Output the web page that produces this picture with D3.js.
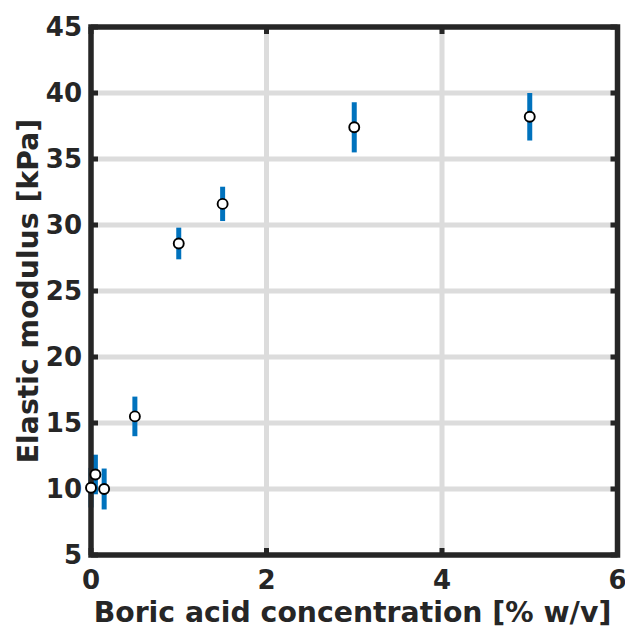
<!DOCTYPE html>
<html>
<head>
<meta charset="utf-8">
<script src="https://cdn.jsdelivr.net/npm/d3@7"></script>
<style>
  html, body { margin: 0; padding: 0; background: #fff; }
  svg { display: block; font-family: "DejaVu Sans", sans-serif; font-weight: bold; }
</style>
</head>
<body>
<svg id="chart" width="625" height="627"></svg>
<script>
// Boric acid concentration (% w/v) vs. elastic modulus (kPa), mean ± error
const concentration = [0, 0.05, 0.15, 0.5, 1, 1.5, 3, 5];
const modulus       = [10.1, 11.1, 10.0, 15.5, 28.6, 31.6, 37.4, 38.2];
const modulusError  = [1.5, 1.5, 1.55, 1.5, 1.2, 1.3, 1.9, 1.8];
const xTicks = [0, 2, 4, 6];
const yTicks = [5, 10, 15, 20, 25, 30, 35, 40, 45];

const svg = d3.select("#chart");
const margin = { left: 91, right: 617.5, top: 27, bottom: 555 };
const ink = "#262626";

const x = d3.scaleLinear().domain([0, 6]).range([margin.left, margin.right]);
const y = d3.scaleLinear().domain([5, 45]).range([margin.bottom, margin.top]);

// grid
const grid = svg.append("g").attr("stroke", "#dcdcdc").attr("stroke-width", 5);
grid.selectAll("line.gy").data(yTicks.slice(1, -1)).join("line")
  .attr("x1", margin.left).attr("x2", margin.right)
  .attr("y1", d => y(d)).attr("y2", d => y(d));
grid.selectAll("line.gx").data(xTicks.slice(1, -1)).join("line")
  .attr("y1", margin.top).attr("y2", margin.bottom)
  .attr("x1", d => x(d)).attr("x2", d => x(d));

// inward ticks on all four sides
const tickLen = 7;
const ticks = svg.append("g").attr("stroke", ink).attr("stroke-width", 5);
yTicks.forEach(t => {
  ticks.append("line").attr("x1", margin.left).attr("x2", margin.left + tickLen).attr("y1", y(t)).attr("y2", y(t));
  ticks.append("line").attr("x1", margin.right).attr("x2", margin.right - tickLen).attr("y1", y(t)).attr("y2", y(t));
});
xTicks.forEach(t => {
  ticks.append("line").attr("y1", margin.bottom).attr("y2", margin.bottom - tickLen).attr("x1", x(t)).attr("x2", x(t));
  ticks.append("line").attr("y1", margin.top).attr("y2", margin.top + tickLen).attr("x1", x(t)).attr("x2", x(t));
});

// data: error bars then markers
const data = concentration.map((c, i) => ({ c, m: modulus[i], e: modulusError[i] }));
svg.append("g").selectAll("line").data(data).join("line")
  .attr("x1", d => x(d.c)).attr("x2", d => x(d.c))
  .attr("y1", d => y(d.m - d.e)).attr("y2", d => y(d.m + d.e))
  .attr("stroke", "#0072BD").attr("stroke-width", 5);

// frame
svg.append("rect")
  .attr("x", margin.left).attr("y", margin.top)
  .attr("width", margin.right - margin.left).attr("height", margin.bottom - margin.top)
  .attr("fill", "none").attr("stroke", ink).attr("stroke-width", 5.5);

svg.append("g").selectAll("circle").data(data).join("circle")
  .attr("cx", d => x(d.c)).attr("cy", d => y(d.m)).attr("r", 5)
  .attr("fill", "#fff").attr("stroke", "#000").attr("stroke-width", 1.9);

// tick labels
svg.append("g").selectAll("text").data(yTicks).join("text")
  .attr("x", 82).attr("y", d => y(d)).attr("dy", "0.36em")
  .attr("text-anchor", "end").attr("font-size", 26).attr("fill", ink)
  .text(d => d);
svg.append("g").selectAll("text").data(xTicks).join("text")
  .attr("x", d => x(d)).attr("y", 589)
  .attr("text-anchor", "middle").attr("font-size", 26).attr("fill", ink)
  .text(d => d);

// axis labels
svg.append("text")
  .attr("x", 352.5).attr("y", 622)
  .attr("text-anchor", "middle").attr("font-size", 28.3).attr("fill", ink)
  .text("Boric acid concentration [% w/v]");
svg.append("text")
  .attr("transform", "translate(38,291) rotate(-90)")
  .attr("text-anchor", "middle").attr("font-size", 28.3).attr("fill", ink)
  .text("Elastic modulus [kPa]");
</script>
</body>
</html>
